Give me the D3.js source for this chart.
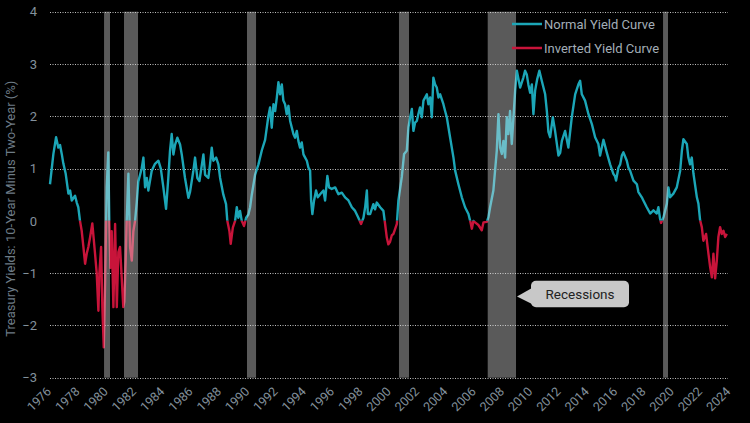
<!DOCTYPE html>
<html><head><meta charset="utf-8">
<script src="https://cdn.jsdelivr.net/npm/d3@7"></script>
<style>
html,body{margin:0;padding:0;background:#000;}
svg{display:block;font-family:Roboto,"Noto Sans",sans-serif;}
</style></head><body>
<svg id="chart" width="750" height="423"></svg>
<script>
// ---------- data ----------
const yearTicks = [1976,1978,1980,1982,1984,1986,1988,1990,1992,1994,1996,1998,2000,2002,2004,2006,2008,2010,2012,2014,2016,2018,2020,2022,2024];
const yTicks = [-3,-2,-1,0,1,2,3,4];
const seriesNames = ["Normal Yield Curve","Inverted Yield Curve"];
const calloutText = "Recessions";
const yTitle = "Treasury Yields: 10-Year Minus Two-Year (%)";

const recessionStart = [1980.24, 1981.65, 1990.34, 2001.08, 2007.35, 2019.74];
const recessionEnd   = [1980.66, 1982.64, 1990.98, 2001.79, 2009.35, 2020.09];

const dates = [
1976.42,1976.66,1976.85,1977.01,1977.13,1977.25,1977.36,1977.53,1977.72,1977.84,1977.96,1978.19,1978.31,1978.42,1978.54,1978.66,1978.78,1978.90,
1979.02,1979.13,1979.25,1979.41,1979.60,1979.72,1979.84,1979.91,1980.03,1980.12,1980.22,1980.31,1980.43,1980.54,1980.61,1980.69,1980.78,1980.90,
1981.02,1981.14,1981.25,1981.37,1981.49,1981.60,1981.67,1981.77,1981.84,1981.96,1982.08,1982.20,1982.31,1982.43,1982.55,1982.66,1982.90,
1983.02,1983.14,1983.26,1983.37,1983.61,1983.84,1984.08,1984.25,1984.43,1984.62,1984.78,1984.90,1985.02,1985.14,1985.26,1985.42,1985.61,1985.73,1985.96,
1986.20,1986.32,1986.55,1986.67,1986.83,1986.98,1987.14,1987.26,1987.38,1987.61,1987.73,1987.85,1987.96,1988.16,1988.32,1988.44,1988.67,1988.86,1988.95,
1989.10,1989.19,1989.34,1989.50,1989.62,1989.73,1989.85,1989.97,1990.13,1990.28,1990.44,1990.56,1990.68,1990.91,1991.15,1991.39,1991.62,1991.85,1991.97,
1992.09,1992.21,1992.33,1992.45,1992.56,1992.68,1992.80,1992.91,1993.03,1993.15,1993.27,1993.39,1993.51,1993.62,1993.74,1993.86,1993.97,
1994.09,1994.21,1994.33,1994.45,1994.57,1994.68,1994.80,1994.87,1994.96,1995.08,1995.22,1995.34,1995.51,1995.74,1995.86,
1996.02,1996.14,1996.33,1996.57,1996.80,1997.04,1997.27,1997.51,1997.75,1997.98,1998.21,1998.40,1998.57,1998.69,1998.81,1998.88,
1999.04,1999.27,1999.39,1999.51,1999.75,1999.98,2000.10,2000.22,2000.33,2000.45,2000.57,2000.69,2000.93,
2001.04,2001.28,2001.44,2001.63,2001.75,2001.87,2001.99,2002.10,2002.22,2002.34,2002.45,2002.57,2002.69,2002.81,
2003.05,2003.16,2003.28,2003.40,2003.51,2003.63,2003.75,2003.87,2003.99,2004.22,2004.34,2004.46,2004.69,2004.93,
2005.05,2005.28,2005.52,2005.75,2005.99,2006.11,2006.23,2006.34,2006.46,2006.69,2006.93,2007.05,2007.29,2007.40,2007.52,2007.75,2007.87,2007.99,
2008.11,2008.23,2008.35,2008.46,2008.58,2008.70,2008.81,2008.93,2009.05,2009.17,2009.29,2009.41,2009.64,2009.87,2009.99,
2010.11,2010.23,2010.35,2010.47,2010.58,2010.70,2010.84,2011.00,2011.17,2011.41,2011.53,2011.64,2011.76,2011.95,
2012.11,2012.35,2012.47,2012.59,2012.82,2013.05,2013.29,2013.53,2013.76,2013.88,2014.00,2014.23,2014.47,2014.71,2014.94,
2015.17,2015.29,2015.53,2015.77,2016.00,2016.23,2016.35,2016.42,2016.59,2016.71,2016.83,2016.94,2017.18,2017.29,2017.41,2017.65,2017.89,
2018.00,2018.24,2018.35,2018.59,2018.83,2019.06,2019.30,2019.41,2019.53,2019.60,2019.77,2020.01,2020.12,2020.24,2020.47,2020.71,2020.95,
2021.07,2021.18,2021.42,2021.53,2021.65,2021.77,2021.89,2022.13,2022.24,2022.36,2022.48,2022.59,2022.78,2022.95,
2023.07,2023.19,2023.30,2023.42,2023.54,2023.65,2023.77,2023.89,2024.01,2024.13,2024.25
];
const spread = [
0.70,1.28,1.60,1.40,1.45,1.28,1.10,0.90,0.52,0.58,0.39,0.48,0.35,0.26,0.00,-0.19,-0.50,-0.82,
-0.62,-0.50,-0.32,-0.05,-0.62,-1.00,-1.72,-1.00,-0.50,-1.65,-2.42,-1.20,0.64,1.31,0.00,-0.90,-0.20,-1.65,
-0.06,-1.65,-0.60,-0.50,-1.10,-1.65,-1.55,-0.72,0.00,0.90,-0.50,-0.76,-0.20,0.00,0.35,0.75,1.00,
1.21,0.64,0.82,0.58,0.96,1.09,1.15,1.00,0.64,0.23,0.82,1.34,1.66,1.27,1.46,1.59,1.46,1.27,0.82,
0.44,0.56,0.96,1.21,0.82,0.76,1.05,1.27,0.88,0.82,1.08,1.40,1.15,1.21,1.08,0.82,0.50,0.32,0.00,
-0.20,-0.44,-0.13,0.00,0.26,0.06,0.19,0.00,-0.10,0.06,0.12,0.26,0.50,0.88,1.08,1.35,1.55,2.00,2.17,
1.78,2.23,2.10,2.36,2.65,2.42,2.61,2.30,2.23,2.04,2.20,1.91,1.78,1.66,1.59,1.72,1.53,
1.40,1.50,1.27,1.21,1.15,1.02,0.96,0.39,0.13,0.39,0.58,0.45,0.51,0.58,0.39,
0.86,0.64,0.61,0.64,0.51,0.54,0.45,0.39,0.26,0.19,0.06,-0.06,0.06,0.26,0.58,0.13,
0.13,0.32,0.22,0.35,0.26,0.19,-0.06,-0.32,-0.45,-0.40,-0.28,-0.25,-0.06,
0.39,0.84,1.28,1.34,1.79,1.98,2.14,1.72,1.88,1.91,2.04,2.17,1.98,2.30,
2.42,2.23,2.36,1.98,2.74,2.61,2.55,2.36,2.42,2.23,2.10,1.98,1.60,1.21,
0.96,0.70,0.45,0.26,0.13,0.00,-0.15,0.00,-0.03,-0.08,-0.18,-0.03,-0.02,0.07,0.26,0.58,0.96,1.34,
2.04,1.40,1.28,1.53,1.21,1.98,1.66,2.10,1.47,1.98,2.49,2.87,2.55,2.74,2.87,
2.80,2.60,2.45,2.61,2.04,2.49,2.70,2.87,2.68,2.42,2.10,1.70,1.60,1.98,
1.72,1.25,1.30,1.53,1.72,1.40,1.98,2.42,2.61,2.68,2.42,2.30,2.04,1.85,1.60,
1.47,1.25,1.55,1.30,1.08,0.90,0.85,0.77,1.02,1.08,1.25,1.31,1.15,1.02,0.96,0.77,0.70,
0.55,0.45,0.39,0.26,0.14,0.20,0.14,0.26,0.04,-0.04,0.07,0.33,0.64,0.45,0.52,0.64,0.96,
1.34,1.56,1.47,1.21,1.08,1.21,0.90,0.45,0.33,0.01,-0.12,-0.38,-0.25,-0.63,
-0.89,-1.08,-0.63,-1.10,-0.76,-0.31,-0.12,-0.25,-0.19,-0.31,-0.25
];

// ---------- layout / styles ----------
const W = 750, H = 423;
const plot = {left: 50, right: 728, top: 11.7, bottom: 377.7};
const teal = "#1ca6b7", red = "#c8143a";
const axisColor = "#83919c";

const svg = d3.select("#chart");
svg.append("rect").attr("width", W).attr("height", H).attr("fill", "#000");

const x = d3.scaleLinear().domain([1976.42, 2024.33]).range([plot.left, plot.right]);
const y = d3.scaleLinear().domain([-3, 4]).range([plot.bottom, plot.top]);

// grid
svg.append("g").selectAll("line").data(yTicks.filter(d => d !== 0)).join("line")
  .attr("x1", plot.left).attr("x2", plot.right)
  .attr("y1", d => Math.round(y(d)) + 0.5).attr("y2", d => Math.round(y(d)) + 0.5)
  .attr("stroke", "#bfbfbf").attr("stroke-width", 1).attr("stroke-dasharray", "1,1.5");

// y axis
const gy = svg.append("g").attr("transform", `translate(${plot.left},0)`)
  .call(d3.axisLeft(y).tickValues(yTicks).tickSize(0).tickPadding(13).tickFormat(d3.format("d")));
gy.select(".domain").remove();
gy.selectAll("text").attr("fill", axisColor).attr("font-size", 13).attr("font-family", "Roboto, sans-serif");

// x axis
const gx = svg.append("g").attr("transform", `translate(0,${plot.bottom})`)
  .call(d3.axisBottom(x).tickValues(yearTicks).tickSize(0).tickFormat(d3.format("d")));
gx.select(".domain").remove();
gx.selectAll("text").attr("fill", axisColor).attr("font-size", 12.5).attr("font-family", "Roboto, sans-serif")
  .attr("x", 0).attr("y", 0).attr("dy", 0)
  .attr("text-anchor", "end")
  .attr("transform", "translate(7.5,14.5) rotate(-45)");

// y title
svg.append("text")
  .attr("transform", `translate(15,${(plot.top + plot.bottom) / 2 + 14}) rotate(-90)`)
  .attr("text-anchor", "middle")
  .attr("fill", "#6e7c87").attr("font-size", 13)
  .text(yTitle);

// line, split by sign via clipping
const defs = svg.append("defs");
defs.append("clipPath").attr("id", "above").append("rect")
  .attr("x", 0).attr("y", 0).attr("width", W).attr("height", y(0));
defs.append("clipPath").attr("id", "below").append("rect")
  .attr("x", 0).attr("y", y(0)).attr("width", W).attr("height", H - y(0));

const pts = dates.map((d, i) => [d, spread[i]]);
const line = d3.line().x(d => x(d[0])).y(d => y(d[1]));
svg.append("path").datum(pts).attr("d", line).attr("fill", "none")
  .attr("stroke", teal).attr("stroke-width", 2.4).attr("stroke-linejoin", "round")
  .attr("clip-path", "url(#above)");
svg.append("path").datum(pts).attr("d", line).attr("fill", "none")
  .attr("stroke", red).attr("stroke-width", 2.4).attr("stroke-linejoin", "round")
  .attr("clip-path", "url(#below)");

// recession bars (on top, translucent)
svg.append("g").selectAll("rect").data(recessionStart.map((s, i) => [s, recessionEnd[i]])).join("rect")
  .attr("x", d => x(d[0])).attr("width", d => x(d[1]) - x(d[0]))
  .attr("y", y(4)).attr("height", y(-3) - y(4))
  .attr("fill", "#e0e0e0").attr("opacity", 0.4);

// legend
const legend = svg.append("g").attr("transform", "translate(512,24)");
[teal, red].forEach((c, i) => {
  legend.append("line").attr("x1", 0).attr("x2", 30).attr("y1", i * 24).attr("y2", i * 24)
    .attr("stroke", c).attr("stroke-width", 2.5);
  legend.append("text").attr("x", 32).attr("y", i * 24).attr("dy", "0.35em")
    .attr("fill", "#a3aeb7").attr("font-size", 13).text(seriesNames[i]);
});

// callout
const tipX = x(recessionEnd[4]) + 1, tipY = 296.5;
const cg = svg.append("g");
cg.append("rect").attr("x", tipX + 14).attr("y", 280.7).attr("width", 98).attr("height", 26.6)
  .attr("rx", 5).attr("fill", "#c8c8c8");
cg.append("path").attr("d", `M${tipX + 15},288 L${tipX},${tipY} L${tipX + 20},306.5 Z`).attr("fill", "#c8c8c8");
cg.append("text").attr("x", tipX + 63).attr("y", 294).attr("dy", "0.35em")
  .attr("text-anchor", "middle").attr("fill", "#222").attr("font-size", 13.5).text(calloutText);
</script>
</body></html>
